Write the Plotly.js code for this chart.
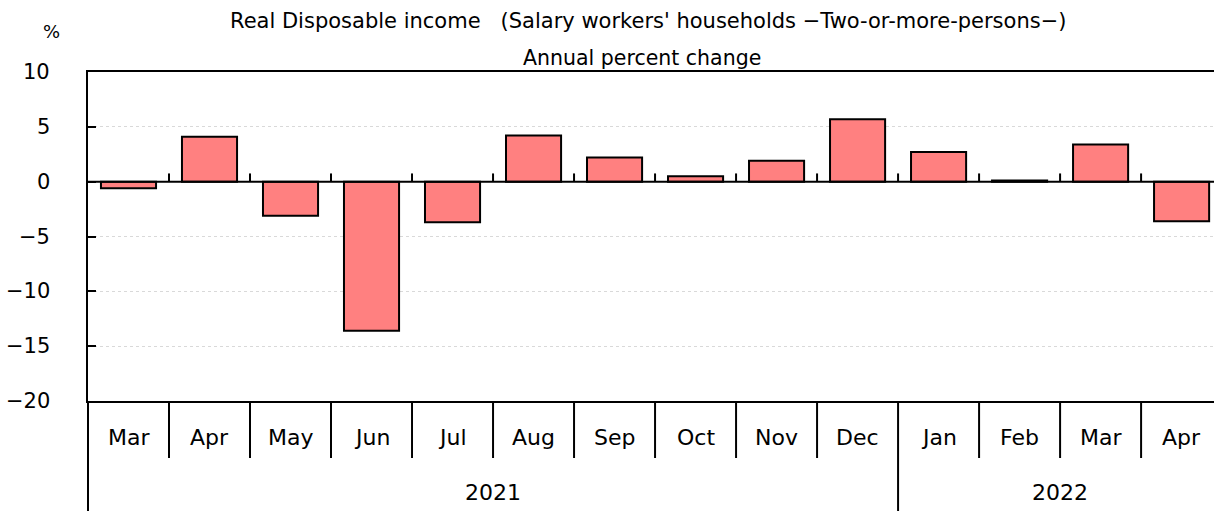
<!DOCTYPE html>
<html><head><meta charset="utf-8">
<script src="https://cdn.plot.ly/plotly-3.0.1.min.js"></script>
<style>body{margin:0;padding:0;background:#fff}#chart{width:1214px;height:511px}</style>
</head><body><div id="chart"></div>
<script>
const months = ["Mar","Apr","May","Jun","Jul","Aug","Sep","Oct","Nov","Dec","Jan","Feb","Mar","Apr"];
const years = ["2021","2022"];
const yearCounts = [10, 4];
const values = [-0.6, 4.1, -3.1, -13.6, -3.7, 4.2, 2.2, 0.5, 1.9, 5.7, 2.7, 0.1, 3.4, -3.6];
const yTicks = [-20, -15, -10, -5, 0, 5, 10];

const FONT = "DejaVu Sans, sans-serif";
const xIdx = months.map((_, i) => i);

const shapes = [];
const annotations = [];
// zero line
shapes.push({type:"line", xref:"paper", yref:"y", x0:0, x1:1, y0:0, y1:0, line:{color:"#000", width:2}, layer:"above"});
// small ticks on zero line at category boundaries
for (let i = 0; i < months.length - 1; i++) {
  shapes.push({type:"line", xref:"x", yref:"y", x0:i+0.5, x1:i+0.5, y0:0, y1:0.75, line:{color:"#000", width:2}});
}
// y tick labels
yTicks.forEach(v => {
  annotations.push({xref:"paper", yref:"y", x:-0.032, y:v, text:(v < 0 ? "−" + Math.abs(v) : String(v)), showarrow:false,
    font:{family:FONT, size:21, color:"#000"}, xanchor:"right", yanchor:"middle"});
});
// month labels and separators
months.forEach((m, i) => {
  annotations.push({xref:"x", yref:"paper", x:i, y:-0.1115, text:m, showarrow:false, font:{family:FONT, size:22, color:"#000"}, xanchor:"center", yanchor:"middle"});
});
let start = 0;
const yearBounds = new Set();
yearCounts.forEach((c, k) => {
  const end = start + c;
  annotations.push({xref:"x", yref:"paper", x:(start + end - 1)/2, y:-0.2796, text:years[k], showarrow:false, font:{family:FONT, size:22, color:"#000"}, xanchor:"center", yanchor:"middle"});
  if (k < yearCounts.length - 1) yearBounds.add(end - 0.5);
  start = end;
});
for (let i = 0; i < months.length - 1; i++) {
  const b = i + 0.5;
  const yEnd = yearBounds.has(b) ? -0.3343 : -0.1733;
  shapes.push({type:"line", xref:"x", yref:"paper", x0:b, x1:b, y0:0, y1:yEnd, line:{color:"#000", width:2}});
}
// left outer line of the label area
shapes.push({type:"line", xref:"paper", yref:"paper", x0:0, x1:0, y0:0, y1:-0.3343, line:{color:"#000", width:2}});

// titles
annotations.push({xref:"paper", yref:"paper", x:0.497, y:1.155, text:"Real Disposable income &nbsp;&nbsp;(Salary workers' households −Two-or-more-persons−)", showarrow:false, font:{family:FONT, size:21, color:"#000"}, xanchor:"center", yanchor:"middle"});
annotations.push({xref:"paper", yref:"paper", x:0.492, y:1.0426, text:"Annual percent change", showarrow:false, font:{family:FONT, size:20.5, color:"#000"}, xanchor:"center", yanchor:"middle"});
annotations.push({xref:"paper", yref:"paper", x:-0.032, y:1.1246, text:"%", showarrow:false, font:{family:FONT, size:18, color:"#000"}, xanchor:"center", yanchor:"middle"});

const trace = {
  type:"bar", x:xIdx, y:values, width:0.68,
  marker:{color:"#ff8080", line:{color:"#000", width:2}},
  hoverinfo:"y"
};

const layout = {
  width:1214, height:511,
  margin:{l:88, r:0, t:72, b:110},
  paper_bgcolor:"#fff", plot_bgcolor:"#fff",
  showlegend:false,
  font:{family:FONT, color:"#000"},
  xaxis:{range:[-0.5, 13.4], showticklabels:false, ticks:"", showgrid:false, zeroline:false,
         showline:true, linecolor:"#000", linewidth:2, mirror:true, fixedrange:true},
  yaxis:{range:[-20, 10], tickvals:yTicks, showticklabels:false,
         ticks:"inside", ticklen:8, tickwidth:2, tickcolor:"#000",
         showline:true, linecolor:"#000", linewidth:2,
         showgrid:true, gridcolor:"#d9d9d9", griddash:"dot", gridwidth:1,
         zeroline:false, fixedrange:true},
  shapes:shapes, annotations:annotations
};
Plotly.newPlot("chart", [trace], layout, {displayModeBar:false, staticPlot:true});
</script></body></html>
